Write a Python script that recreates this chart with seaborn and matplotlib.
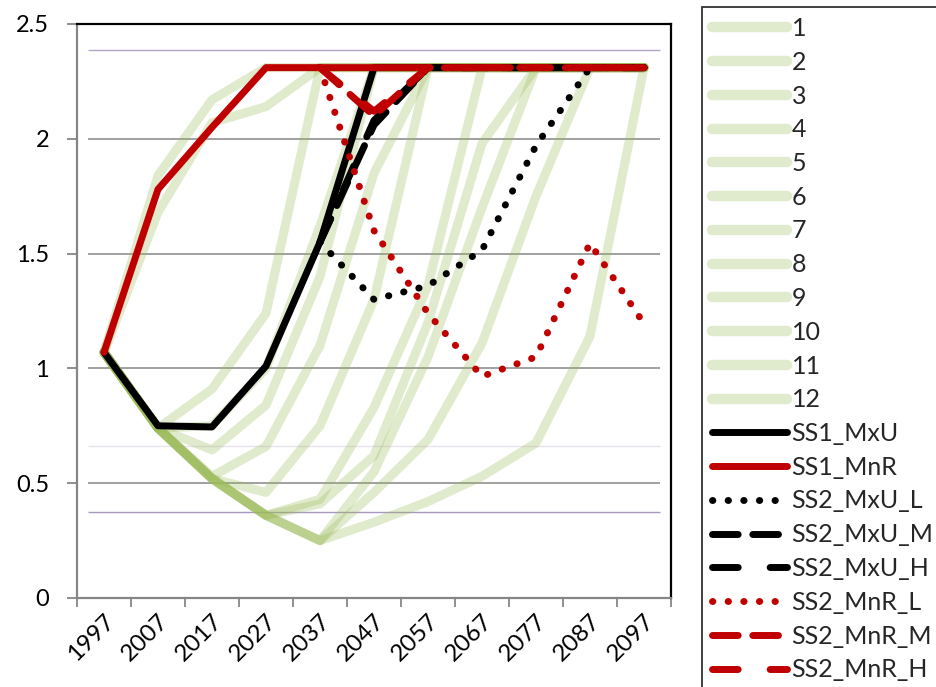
import numpy as np
import pandas as pd
import matplotlib
matplotlib.use("Agg")
import matplotlib.pyplot as plt
import seaborn as sns
from matplotlib.lines import Line2D

nan = np.nan

years = [1997, 2007, 2017, 2027, 2037, 2047, 2057, 2067, 2077, 2087, 2097]
year_labels = [str(y) for y in years]

# Twelve background scenario trajectories
scenario_1 = [1.07, 1.84, 2.17, 2.31, 2.31, 2.31, 2.31, 2.31, 2.31, 2.31, 2.31]
scenario_2 = [1.07, 1.68, 2.07, 2.14, 2.31, 2.31, 2.31, 2.31, 2.31, 2.31, 2.31]
scenario_3 = [1.07, 0.74, 0.91, 1.24, 2.31, 2.31, 2.31, 2.31, 2.31, 2.31, 2.31]
scenario_4 = [1.07, 0.74, 0.75, 1.00, 1.62, 2.31, 2.31, 2.31, 2.31, 2.31, 2.31]
scenario_5 = [1.07, 0.74, 0.645, 0.84, 1.40, 2.31, 2.31, 2.31, 2.31, 2.31, 2.31]
scenario_6 = [1.07, 0.74, 0.53, 0.66, 1.10, 1.85, 2.31, 2.31, 2.31, 2.31, 2.31]
scenario_7 = [1.07, 0.74, 0.52, 0.46, 0.75, 1.30, 2.31, 2.31, 2.31, 2.31, 2.31]
scenario_8 = [1.07, 0.74, 0.52, 0.36, 0.43, 0.83, 1.36, 2.31, 2.31, 2.31, 2.31]
scenario_9 = [1.07, 0.74, 0.52, 0.36, 0.41, 0.62, 1.20, 1.98, 2.31, 2.31, 2.31]
scenario_10 = [1.07, 0.74, 0.52, 0.36, 0.25, 0.46, 0.69, 1.11, 1.75, 2.31, 2.31]
scenario_11 = [1.07, 0.74, 0.52, 0.36, 0.25, 0.33, 0.42, 0.53, 0.675, 1.14, 2.31]
scenario_12 = [1.07, 0.74, 0.52, 0.36, 0.25, 0.55, 1.05, 1.70, 2.31, 2.31, 2.31]

# Highlighted pathways
ss1_mxu = [1.07, 0.75, 0.745, 1.01, 1.55, 2.31, 2.31, 2.31, 2.31, 2.31, 2.31]
ss1_mnr = [1.07, 1.78, 2.05, 2.31, 2.31, 2.31, 2.31, 2.31, 2.31, 2.31, 2.31]
ss2_mxu_l = [nan, nan, nan, nan, 1.55, 1.30, 1.36, 1.515, 1.97, 2.31, 2.31]
ss2_mxu_m = [nan, nan, nan, nan, 1.55, 2.06, 2.31, 2.31, 2.31, 2.31, 2.31]
ss2_mxu_h = [nan, nan, nan, nan, 1.55, 2.08, 2.31, 2.31, 2.31, 2.31, 2.31]
ss2_mnr_l = [nan, nan, nan, nan, 2.31, 1.60, 1.24, 0.965, 1.05, 1.545, 1.195]
ss2_mnr_m = [nan, nan, nan, nan, 2.31, 2.10, 2.31, 2.31, 2.31, 2.31, 2.31]
ss2_mnr_h = [nan, nan, nan, nan, 2.31, 2.12, 2.31, 2.31, 2.31, 2.31, 2.31]

# Thin horizontal reference levels
reference_levels = [2.387, 0.662, 0.375]
reference_colors = ["#b3a5c8", "#e8e2ef", "#a898bf"]

y_ticks = [0, 0.5, 1, 1.5, 2, 2.5]
y_tick_labels = ["0", "0.5", "1", "1.5", "2", "2.5"]

scenarios = [scenario_1, scenario_2, scenario_3, scenario_4, scenario_5, scenario_6,
             scenario_7, scenario_8, scenario_9, scenario_10, scenario_11, scenario_12]
scenario_names = [str(i) for i in range(1, 13)]

GREEN = "#9bbb59"
RED = "#c00000"
BLACK = "#000000"
AXIS_GREY = "#868686"

DOT = (0, (0.05, 2.2))
DASH = (0, (3.7, 2.1))
LONG_GAP_DASH = (0, (3.7, 4.6))

pathways = [
    ("SS1_MxU", ss1_mxu, BLACK, "-"),
    ("SS1_MnR", ss1_mnr, RED, "-"),
    ("SS2_MxU_L", ss2_mxu_l, BLACK, DOT),
    ("SS2_MxU_M", ss2_mxu_m, BLACK, DASH),
    ("SS2_MxU_H", ss2_mxu_h, BLACK, LONG_GAP_DASH),
    ("SS2_MnR_L", ss2_mnr_l, RED, DOT),
    ("SS2_MnR_M", ss2_mnr_m, RED, DASH),
    ("SS2_MnR_H", ss2_mnr_h, RED, LONG_GAP_DASH),
]

sns.set_theme(style="white")
plt.rcParams["font.family"] = ["Lato", "DejaVu Sans"]

W, H = 937, 687
fig = plt.figure(figsize=(W / 100, H / 100), dpi=100)
ax = fig.add_axes([77 / W, 1 - 598 / H, (671 - 77) / W, (598 - 24) / H])

x = np.arange(len(years))

# gridlines and reference levels (stop short of the axis ends)
for g in [0.5, 1.0, 1.5, 2.0]:
    ax.hlines(g, -0.3, 10.3, color=AXIS_GREY, lw=1.1, zorder=1)
for lvl, col in zip(reference_levels, reference_colors):
    ax.hlines(lvl, -0.3, 10.3, color=col, lw=1.0, zorder=1)

line_kw = dict(solid_joinstyle="round", solid_capstyle="round",
               dash_joinstyle="round", dash_capstyle="round")

LW = 5.0

for name, vals in zip(scenario_names, scenarios):
    df = pd.DataFrame({"x": x, "y": vals})
    sns.lineplot(data=df, x="x", y="y", ax=ax, color=GREEN, alpha=0.3, lw=6.5,
                 estimator=None, sort=False, zorder=2, **line_kw)

for i, (name, vals, col, ls) in enumerate(pathways):
    df = pd.DataFrame({"x": x, "y": vals}).dropna()
    sns.lineplot(data=df, x="x", y="y", ax=ax, color=col, lw=LW, linestyle=ls,
                 estimator=None, sort=False, zorder=3 + i, **line_kw)

ax.set_xlim(-0.5, 10.5)
ax.set_ylim(0, 2.5)
ax.set_xlabel("")
ax.set_ylabel("")

ax.set_yticks(y_ticks)
ax.set_yticklabels(y_tick_labels)
ax.set_xticks(x)
ax.set_xticklabels(year_labels, rotation=45, ha="right", va="top", rotation_mode="anchor")
ax.set_xticks(np.arange(-0.5, 11, 1), minor=True)

ax.tick_params(axis="y", which="major", left=True, length=7, width=1.3, color=AXIS_GREY,
               pad=13, labelsize=17, labelcolor="black")
ax.tick_params(axis="x", which="major", bottom=False, length=0, pad=9, labelsize=17.5,
               labelcolor="black")
ax.tick_params(axis="x", which="minor", bottom=True, length=6.5, width=1.3, color=AXIS_GREY)

for side in ["left", "bottom"]:
    ax.spines[side].set_color(AXIS_GREY)
    ax.spines[side].set_linewidth(1.6)
for side in ["top", "right"]:
    ax.spines[side].set_color("black")
    ax.spines[side].set_linewidth(1.6)
for sp in ax.spines.values():
    sp.set_zorder(20)

handles = []
labels = []
for name in scenario_names:
    handles.append(Line2D([], [], color=GREEN, alpha=0.3, lw=7.5, solid_capstyle="round"))
    labels.append(name)
for name, vals, col, ls in pathways:
    handles.append(Line2D([], [], color=col, lw=LW, linestyle=ls, **line_kw))
    labels.append(name)

leg = ax.legend(handles, labels, loc="upper left",
                bbox_to_anchor=(702 / W, 1 - 7 / H), bbox_transform=fig.transFigure,
                frameon=True, fancybox=False, fontsize=18, handlelength=3.0,
                handletextpad=0.18, borderpad=0.4, labelspacing=0.43, borderaxespad=0)
leg.get_frame().set_edgecolor("black")
leg.get_frame().set_linewidth(1.3)

fig.savefig("out.png", dpi=100, facecolor="white")
